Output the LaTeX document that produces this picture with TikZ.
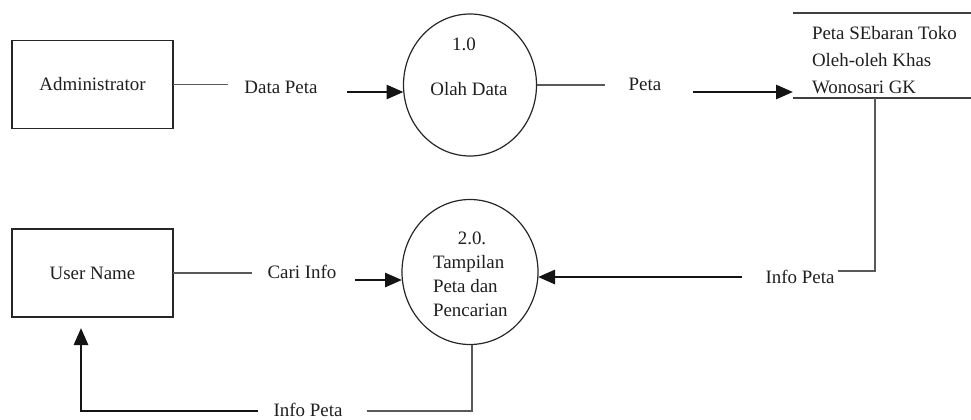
\documentclass[tikz,border=0pt]{standalone}
\usepackage{fontspec}
\setmainfont{Liberation Serif}
\usetikzlibrary{shapes.geometric,arrows.meta}
\begin{document}
\begin{tikzpicture}[x=1bp,y=-1bp,
  every node/.style={font=\fontsize{19}{23}\selectfont, text=black!88, inner sep=0pt, outer sep=0pt},
  entity/.style={draw=black!85, line width=1.3bp, minimum width=161bp, minimum height=88bp},
  proc/.style={draw=black!85, ellipse, line width=1.2bp},
  thinflow/.style={line width=1.3bp, draw=black!65},
  flow/.style={line width=2.8bp, draw=black!92, -{Triangle[length=17bp,width=14bp]}},
  storeline/.style={line width=1.3bp, draw=black!75}]
\useasboundingbox (0,0) rectangle (971,419);

% ---- process 1.0 and its inputs/outputs ----
\node[entity] (admin) at (92.5,84.5) {Administrator};
\node[proc, minimum width=133bp, minimum height=142bp] (p1) at (470,85) {};
\node (p1num) at (464,44) {1.0};
\node (p1name) at (469,89) {Olah Data};

\coordinate (dOut) at (228,84.5);
\coordinate (dIn) at (347,92);
\draw[thinflow] (admin.east) -- (dOut);
\node (lblData) at (281,87) {Data Peta};
\draw[flow] (dIn) -- (dIn -| p1.west);

% ---- data store ----
\node[minimum width=178bp, minimum height=85bp] (store) at (882,55.5) {};
\draw[storeline] (store.north west) -- (store.north east)
                 (store.south west) -- (store.south east);
\node[align=left, anchor=west, font=\fontsize{19}{27}\selectfont] (storetxt) at (812,60)
  {Peta SEbaran Toko\\Oleh-oleh Khas\\Wonosari GK};

\coordinate (pOut) at (605,85);
\coordinate (pIn) at (693,92);
\draw[thinflow] (p1.east) -- (pOut);
\node (lblPeta) at (645,84) {Peta};
\draw[flow] (pIn) -- (pIn -| store.west);

% ---- process 2.0 ----
\node[proc, minimum width=136bp, minimum height=145bp] (p2) at (470,272) {};
\node (p2num) at (472,238) {2.0.};
\node[align=left, anchor=west, font=\fontsize{19}{24}\selectfont] (p2name) at (433,286)
  {Tampilan\\Peta dan\\Pencarian};

\coordinate (iOut) at (838,271);
\coordinate (iIn) at (742,277);
\draw[thinflow] ([xshift=-7bp]store.south) |- (iOut);
\node (lblInfo1) at (800,277) {Info Peta};
\draw[flow] (iIn) -- (iIn -| p2.east);

% ---- user entity ----
\node[entity] (user) at (92.5,273) {User Name};
\coordinate (cOut) at (252,273);
\coordinate (cIn) at (355,280);
\draw[thinflow] (user.east) -- (cOut);
\node (lblCari) at (302,272) {Cari Info};
\draw[flow] (cIn) -- (cIn -| p2.west);

% ---- result back to the user ----
\coordinate (rOut) at (367,411);
\coordinate (rIn) at (258,411);
\draw[thinflow] ([xshift=2bp]p2.south) |- (rOut);
\node (lblInfo2) at (308,410) {Info Peta};
\draw[flow, shorten >=11bp] (rIn) -| ([xshift=-11.5bp]user.south);
\end{tikzpicture}
\end{document}
